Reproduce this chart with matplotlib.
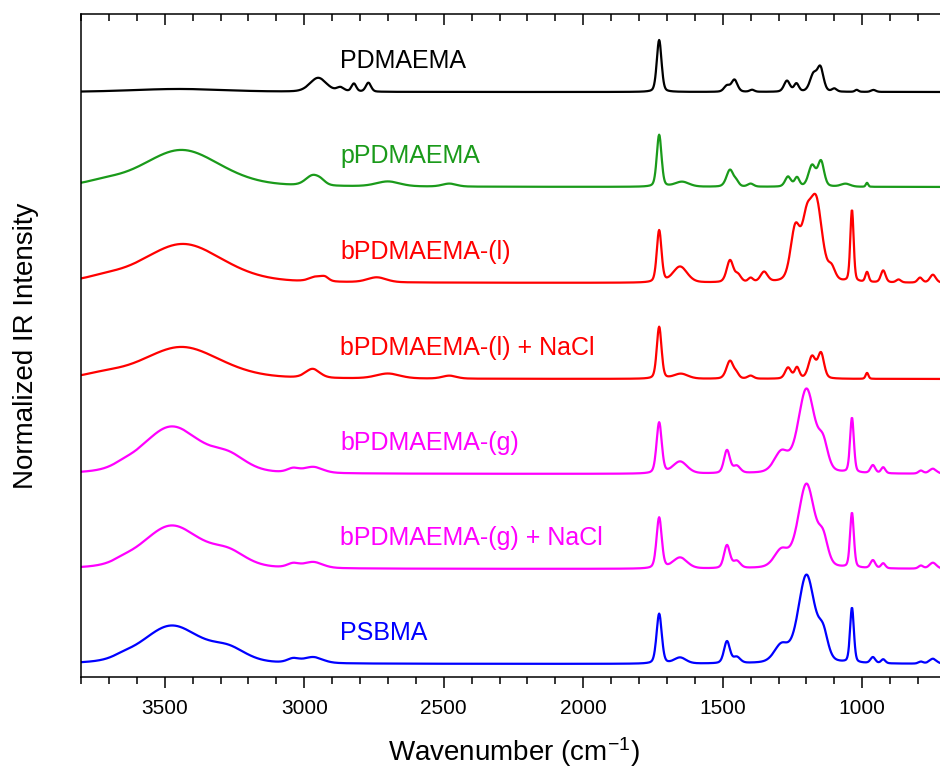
import matplotlib.pyplot as plt
import numpy as np

# peak tables: (center cm-1, height, fwhm)
pdmaema = [(3450, 3, 400), (2950, 14, 70), (2870, 4, 30), (2822, 8, 20), (2770, 9, 22),
           (1728, 52, 20), (1485, 6, 25), (1458, 12, 25), (1395, 2, 20),
           (1270, 11, 25), (1236, 8, 20), (1175, 17, 30), (1150, 23, 26),
           (1100, 3, 20), (1020, 2, 15), (960, 2, 20)]
ppdmaema = [(3440, 37, 330), (3720, 3, 150), (2970, 10, 60), (2940, 3, 40),
            (2700, 5, 100), (2480, 3, 60),
            (1728, 52, 20), (1646, 5, 60), (1474, 17, 30), (1450, 4, 20), (1400, 3, 25),
            (1266, 10, 25), (1234, 9, 20), (1180, 21, 30), (1148, 25, 26),
            (1060, 3, 40), (983, 4, 10)]
bpd_l = [(3435, 39, 340), (3720, 3, 150), (2955, 5, 60), (2925, 3, 30), (2740, 5, 80),
         (1728, 52, 20), (1653, 16, 60), (1474, 22, 28), (1445, 7, 25), (1400, 4, 20),
         (1352, 10, 30), (1240, 52, 40), (1200, 50, 40), (1165, 78, 50), (1110, 12, 30),
         (1037, 72, 14), (983, 10, 14), (925, 12, 20), (870, 3, 20), (793, 5, 20), (747, 8, 25)]
bpd_l_nacl = [(3440, 32, 330), (3720, 3, 150), (2970, 9, 60), (2700, 5, 100), (2480, 3, 60),
              (1728, 52, 20), (1650, 5, 60), (1474, 18, 30), (1450, 4, 20), (1400, 3, 25),
              (1266, 11, 25), (1234, 11, 20), (1180, 22, 30), (1148, 25, 26), (983, 6, 12)]
bpd_g = [(3475, 47, 250), (3270, 14, 150), (3650, 2, 80), (3040, 4, 50), (2968, 6, 80),
         (1728, 51, 22), (1653, 12, 60), (1485, 23, 25), (1450, 7, 30),
         (1290, 20, 60), (1200, 84, 70), (1140, 25, 40),
         (1037, 55, 16), (962, 8, 20), (925, 6, 18), (790, 3, 20), (747, 5, 30)]
bpd_g_nacl = [(3475, 43, 250), (3270, 13, 150), (3650, 2, 80), (3040, 4, 50), (2968, 6, 80),
              (1728, 51, 22), (1653, 11, 60), (1485, 23, 25), (1450, 7, 30),
              (1290, 17, 60), (1200, 84, 70), (1140, 25, 40),
              (1037, 55, 16), (962, 8, 20), (925, 5, 18), (790, 3, 20), (747, 6, 30)]
psbma = [(3475, 38, 250), (3270, 12, 150), (3650, 2, 80), (3040, 4, 50), (2968, 6, 80),
         (1728, 50, 22), (1653, 6, 50), (1485, 22, 25), (1450, 6, 30),
         (1290, 17, 60), (1200, 88, 70), (1140, 25, 40),
         (1037, 55, 16), (962, 6, 20), (925, 4, 18), (790, 2, 20), (747, 5, 30)]

names = ['PDMAEMA', 'pPDMAEMA', 'bPDMAEMA-(l)', 'bPDMAEMA-(l) + NaCl',
         'bPDMAEMA-(g)', 'bPDMAEMA-(g) + NaCl', 'PSBMA']
spectra = [pdmaema, ppdmaema, bpd_l, bpd_l_nacl, bpd_g, bpd_g_nacl, psbma]
offsets = [572, 477, 381, 285, 190, 95, 0]
colors = ['black', '#1a9a1a', '#ff0000', '#ff0000', '#ff00ff', '#ff00ff', '#0000ff']

wn = np.arange(650, 3851, 2.0)


def spectrum(peaks, eta=0.3):
    y = np.zeros_like(wn)
    for c, h, w in peaks:
        g = np.exp(-4 * np.log(2) * ((wn - c) / w) ** 2)
        l = 1 / (1 + 4 * ((wn - c) / w) ** 2)
        y += h * ((1 - eta) * g + eta * l)
    return y


plt.rcParams['font.family'] = ['Liberation Sans', 'DejaVu Sans']
plt.rcParams['mathtext.default'] = 'regular'
fig = plt.figure(figsize=(9.4, 7.72), dpi=100)
ax = fig.add_axes([81 / 940, 95 / 772, 865 / 940, 663 / 772])

for pk, off, col, nm in zip(spectra, offsets, colors, names):
    ax.plot(wn, spectrum(pk) + off, color=col, lw=1.6)
    ax.text(2870, off + 24, nm, color=col, fontsize=18, ha='left', va='baseline')

ax.set_xlim(3800, 700)
ax.set_ylim(-13, 650)
ax.set_xticks([3500, 3000, 2500, 2000, 1500, 1000])
ax.set_xticks(np.arange(3800, 699, -100), minor=True)
ax.set_yticks([])
ax.tick_params(axis='x', which='both', direction='out', top=True, labelsize=15, width=1.1, pad=8)
ax.tick_params(axis='x', which='major', length=8)
ax.tick_params(axis='x', which='minor', length=5)
for t in ax.xaxis.get_major_ticks() + ax.xaxis.get_minor_ticks():
    t.tick2line.set_marker(3)  # top ticks pointing into the plot
for s in ax.spines.values():
    s.set_linewidth(1.1)

ax.set_xlabel('Wavenumber (cm$^{-1}$)', fontsize=20, labelpad=12)
ax.set_ylabel('Normalized IR Intensity', fontsize=20, labelpad=30)

fig.savefig('out.png', dpi=100)
